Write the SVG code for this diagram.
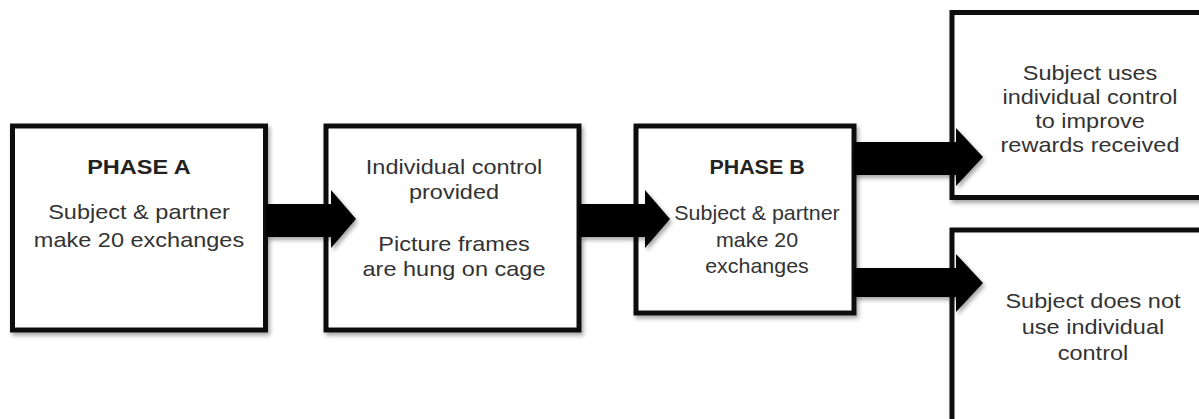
<svg xmlns="http://www.w3.org/2000/svg" width="1199" height="419" viewBox="0 0 1199 419">
  <style>
    .box { fill: #ffffff; stroke: #111111; stroke-width: 5; filter: url(#shadow); }
    .arrow { fill: #000000; filter: url(#shadow); }
    .t { font-family: "Liberation Sans", Arial, sans-serif; font-size: 21px; fill: #333333; text-anchor: middle; }
    .h { font-family: "Liberation Sans", Arial, sans-serif; font-size: 21px; font-weight: bold; fill: #222222; text-anchor: middle; }
  </style>
  <defs>
    <filter id="shadow" x="-10%" y="-10%" width="130%" height="130%">
      <feDropShadow dx="2" dy="3" stdDeviation="2" flood-color="#000000" flood-opacity="0.35"/>
    </filter>
  </defs>
  <rect width="1199" height="419" fill="#ffffff"/>

  <g id="phaseA">
    <rect class="box" x="12.5" y="126" width="253" height="204"/>
    <g transform="translate(139,0) scale(1.12,1)">
      <text class="h" x="0" y="174">PHASE A</text>
      <text class="t" x="0" y="219">Subject &amp; partner</text>
      <text class="t" x="0" y="247">make 20 exchanges</text>
    </g>
  </g>

  <g id="control">
    <rect class="box" x="326" y="126" width="253" height="204"/>
    <g transform="translate(454,0) scale(1.12,1)">
      <text class="t" x="0" y="174">Individual control</text>
      <text class="t" x="0" y="199">provided</text>
      <text class="t" x="0" y="251">Picture frames</text>
      <text class="t" x="0" y="276">are hung on cage</text>
    </g>
  </g>

  <g id="phaseB">
    <rect class="box" x="636" y="126" width="218" height="187"/>
    <g transform="translate(757,0) scale(1.02,1)">
      <text class="h" x="0" y="174">PHASE B</text>
      <text class="t" x="0" y="220">Subject &amp; partner</text>
      <text class="t" x="0" y="247">make 20</text>
      <text class="t" x="0" y="273">exchanges</text>
    </g>
  </g>

  <g id="uses">
    <rect class="box" x="952" y="12.5" width="270" height="185"/>
    <g transform="translate(1090,0) scale(1.12,1)">
      <text class="t" x="0" y="80">Subject uses</text>
      <text class="t" x="0" y="104">individual control</text>
      <text class="t" x="0" y="128">to improve</text>
      <text class="t" x="0" y="152">rewards received</text>
    </g>
  </g>

  <g id="notuse">
    <rect class="box" x="952" y="230" width="270" height="200"/>
    <g transform="translate(1093,0) scale(1.12,1)">
      <text class="t" x="0" y="308">Subject does not</text>
      <text class="t" x="0" y="334">use individual</text>
      <text class="t" x="0" y="360">control</text>
    </g>
  </g>

  <g id="connectors">
    <polygon class="arrow" points="266,204 331,204 331,190 356,219 331,248 331,237 266,237"/>
    <polygon class="arrow" points="579,204 645,204 645,190 670,219 645,248 645,237 579,237"/>
    <polygon class="arrow" points="854,142 956,142 956,128 983,157 956,186 956,175 854,175"/>
    <polygon class="arrow" points="854,268 956,268 956,254 983,283 956,312 956,297 854,297"/>
  </g>
</svg>
